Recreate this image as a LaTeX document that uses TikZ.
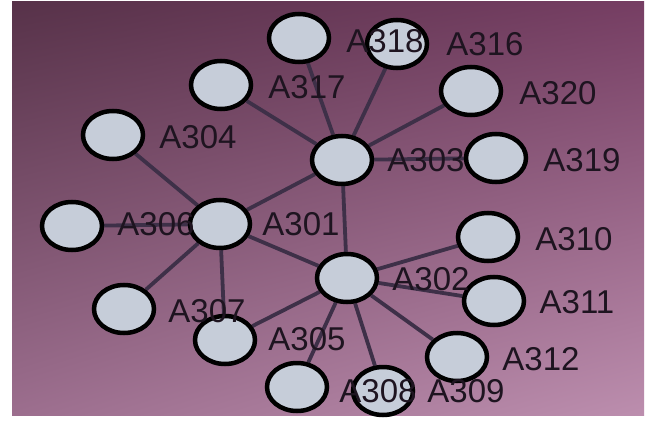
\documentclass[tikz,border=0pt]{standalone}
\usepackage{fontspec}
\setmainfont{Liberation Sans}
\usetikzlibrary{shapes.geometric,shadings}
\definecolor{bgTL}{HTML}{573249}
\definecolor{bgTR}{HTML}{763E63}
\definecolor{bgBL}{HTML}{9C6E8E}
\definecolor{bgBR}{HTML}{BC8EAE}
\definecolor{nodefill}{HTML}{C6CDD9}
\definecolor{edgecol}{HTML}{3E3048}
\definecolor{txtcol}{HTML}{1E1420}
\pgfdeclarelayer{backdrop}
\pgfdeclarelayer{edges}
\pgfdeclarelayer{labels}
\pgfsetlayers{backdrop,edges,main,labels}
\tikzset{
  vtx/.style={ellipse, draw=black, line width=4.5pt, fill=nodefill, minimum width=60pt, minimum height=48pt, inner sep=0pt},
  lbl/.style={inner sep=0pt, text=txtcol, font=\fontsize{33}{33}\selectfont, text depth=0pt},
  edge/.style={draw=edgecol, line width=3.8pt}
}
\begin{document}
\begin{tikzpicture}[x=1pt,y=-1pt]
\useasboundingbox (0,0) rectangle (648,425);
\begin{pgfonlayer}{backdrop}
\fill[white] (0,0) rectangle (648,425);
\shade[upper left=bgTL, upper right=bgTR, lower left=bgBL, lower right=bgBR] (12,2) rectangle (644,415);
\end{pgfonlayer}
% nodes
\node[vtx] (A318) at (299,38) {};
\node[vtx] (A316) at (397,44) {};
\node[vtx] (A317) at (221,85) {};
\node[vtx] (A320) at (471,91) {};
\node[vtx] (A304) at (113,135) {};
\node[vtx] (A303) at (342,160) {};
\node[vtx] (A319) at (496,158) {};
\node[vtx] (A306) at (72,226) {};
\node[vtx] (A301) at (220,224) {};
\node[vtx] (A310) at (488,237) {};
\node[vtx] (A302) at (347,278) {};
\node[vtx] (A311) at (494,301) {};
\node[vtx] (A307) at (124,309) {};
\node[vtx] (A305) at (225,340) {};
\node[vtx] (A312) at (457,357) {};
\node[vtx] (A308) at (297,387) {};
\node[vtx] (A309) at (383,391) {};
% edges
\begin{pgfonlayer}{edges}
\path[edge] (A303) -- (A318) (A303) -- (A316) (A303) -- (A317) (A303) -- (A320)
  (A303) -- (A319) (A303) -- (A301) (A303) -- (A302)
  (A301) -- (A304) (A301) -- (A306) (A301) -- (A307) (A301) -- (A305) (A301) -- (A302)
  (A302) -- (A310) (A302) -- (A311) (A302) -- (A312) (A302) -- (A309) (A302) -- (A308) (A302) -- (A305);
\end{pgfonlayer}
% labels
\begin{pgfonlayer}{labels}
\node[lbl] (L318) at (385,41) {A318};
\node[lbl] (L316) at (485,44) {A316};
\node[lbl] (L317) at (307,87) {A317};
\node[lbl] (L320) at (558,93) {A320};
\node[lbl] (L304) at (198,137) {A304};
\node[lbl] (L303) at (426,160) {A303};
\node[lbl] (L319) at (582,160) {A319};
\node[lbl] (L306) at (156,224) {A306};
\node[lbl] (L301) at (301,224) {A301};
\node[lbl] (L310) at (574,239) {A310};
\node[lbl] (L302) at (431,279) {A302};
\node[lbl] (L311) at (577,302) {A311};
\node[lbl] (L307) at (207,311) {A307};
\node[lbl] (L305) at (307,339) {A305};
\node[lbl] (L312) at (541,359) {A312};
\node[lbl] (L308) at (378,391) {A308};
\node[lbl] (L309) at (466,391) {A309};
\end{pgfonlayer}
\end{tikzpicture}
\end{document}
